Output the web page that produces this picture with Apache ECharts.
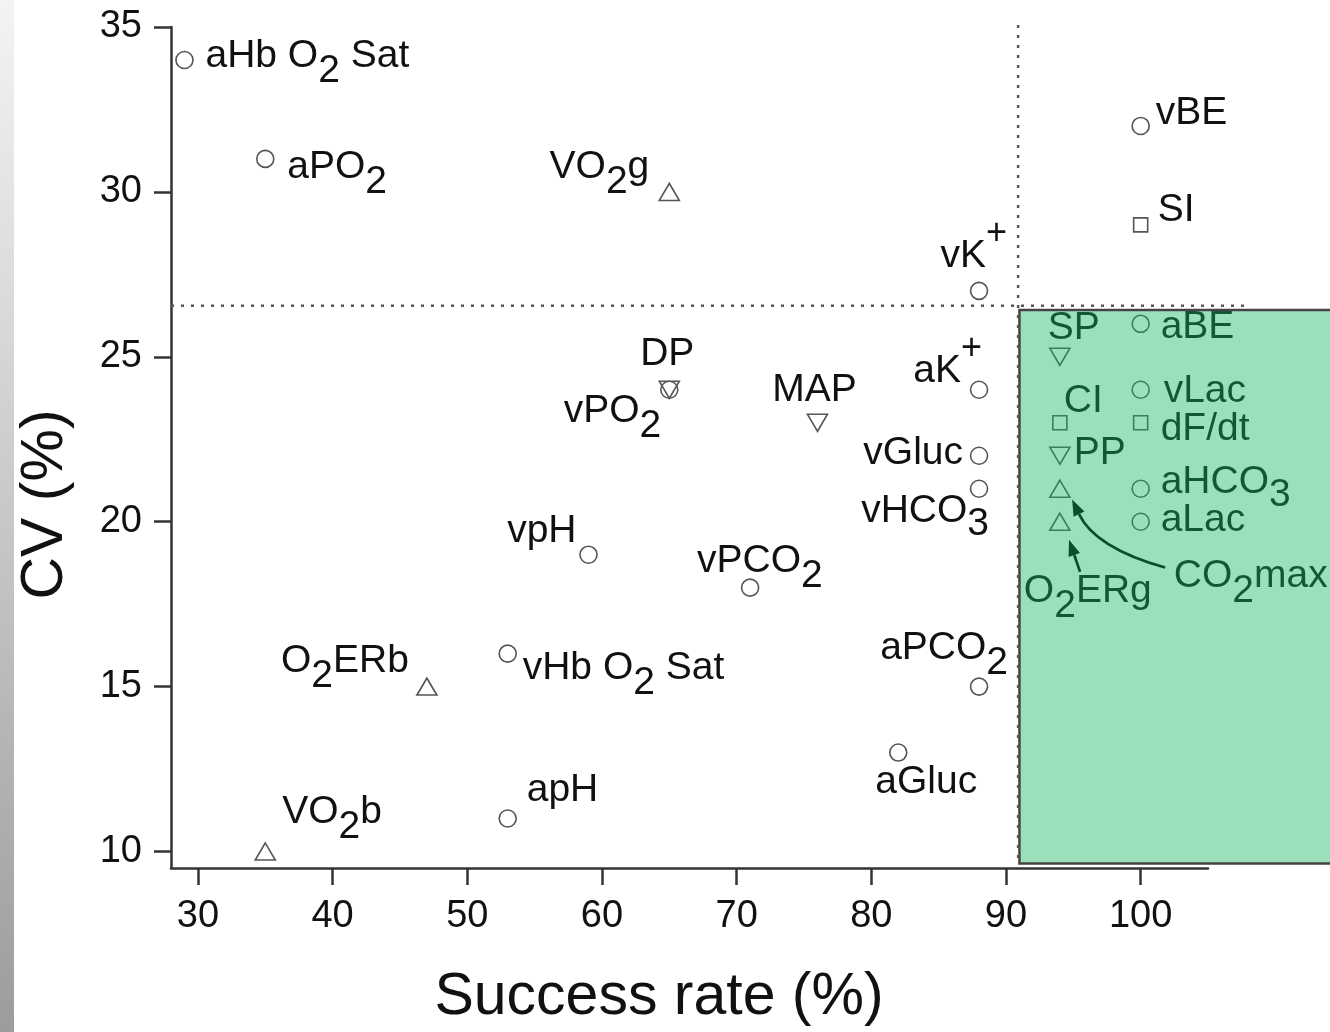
<!DOCTYPE html>
<html>
<head>
<meta charset="utf-8">
<script src="https://cdn.jsdelivr.net/npm/echarts@6/dist/echarts.min.js"></script>
<style>
  html, body { margin: 0; padding: 0; background: #fff; }
  #chart { width: 1330px; height: 1032px; }
</style>
</head>
<body>
<div id="chart"></div>
<script>
// circles
const circleNames = ['aHb O2 Sat', 'aPO2', 'vK+', 'vBE', 'aBE', 'vLac', 'aHCO3', 'aLac', 'aK+', 'vGluc',
  'vHCO3', 'aPCO2', 'aGluc', 'vPO2', 'vpH', 'vPCO2', 'vHb O2 Sat', 'apH'];
const circleX = [29, 35, 88, 100, 100, 100, 100, 100, 88, 88, 88, 88, 82, 65, 59, 71, 53, 53];
const circleY = [34, 31, 27, 32, 26, 24, 21, 20, 24, 22, 21, 15, 13, 24, 19, 18, 16, 11];

// up triangles
const upTriNames = ['VO2g', 'CO2max', 'O2ERg', 'O2ERb', 'VO2b'];
const upTriX = [65, 94, 94, 47, 35];
const upTriY = [30, 21, 20, 15, 10];

// down triangles
const downTriNames = ['SP', 'PP', 'DP', 'MAP'];
const downTriX = [94, 94, 65, 76];
const downTriY = [25, 22, 24, 23];

// squares
const squareNames = ['SI', 'CI', 'dF/dt'];
const squareX = [100, 94, 100];
const squareY = [29, 23, 23];

const xTicks = [30, 40, 50, 60, 70, 80, 90, 100];
const yTicks = [10, 15, 20, 25, 30, 35];

// dotted cut-off lines: [x1, y1, x2, y2]
const cutLines = [
  [90.9, 35.06, 90.9, 9.6],
  [28, 26.55, 107.85, 26.55]
];
// shaded zone: [x1, y1, x2, y2]
const zoneBox = [[91.0, 26.42, 115, 9.64]];
// arrows: [startX, startY, ctrlX, ctrlY, endX, endY]
const arrows = [
  [95.50, 18.48, 95.09, 18.97, 94.68, 19.45],
  [101.82, 18.61, 96.62, 19.21, 94.91, 20.67]
];

// label text with sub/superscripts
const labelText = {
  'aHb O2 Sat': 'aHb O{sb|2} Sat',
  'vHb O2 Sat': 'vHb O{sb|2} Sat',
  'aPO2': 'aPO{sb|2}',
  'vPO2': 'vPO{sb|2}',
  'VO2g': 'VO{sb|2}g',
  'VO2b': 'VO{sb|2}b',
  'O2ERb': 'O{sb|2}ERb',
  'O2ERg': 'O{sb|2}ERg',
  'CO2max': 'CO{sb|2}max',
  'vPCO2': 'vPCO{sb|2}',
  'aPCO2': 'aPCO{sb|2}',
  'vHCO3': 'vHCO{sb3|3}',
  'aHCO3': 'aHCO{sb3|3}',
  'vK+': 'vK{sp|+}',
  'aK+': 'aK{sp|+}'
};

// label placement: [align, dx, dy] from marker centre
const labelPlace = {
  'aHb O2 Sat': ['left', 21, -4],
  'aPO2': ['left', 22, 8],
  'VO2g': ['right', -20, -25],
  'vK+': ['right', 28, -35],
  'vBE': ['left', 15, -13],
  'SI': ['left', 17, -15],
  'SP': ['center', 14, -29],
  'aBE': ['left', 20, 3],
  'CI': ['left', 4, -22],
  'vLac': ['left', 23, 1],
  'dF/dt': ['left', 20, 6],
  'PP': ['left', 14, -2],
  'aHCO3': ['left', 20, -6],
  'aLac': ['left', 20, -1],
  'CO2max': ['left', 114, 88],
  'O2ERg': ['left', -36, 70],
  'aK+': ['right', 3, -19],
  'vGluc': ['right', -16, -2],
  'vHCO3': ['right', 10, 23],
  'aPCO2': ['right', 29, -38],
  'aGluc': ['center', 28, 30],
  'DP': ['center', -2, -36],
  'vPO2': ['right', -8, 21],
  'MAP': ['center', -3, -33],
  'vpH': ['right', -12, -23],
  'vPCO2': ['left', -53, -26],
  'O2ERb': ['right', -18, -25],
  'vHb O2 Sat': ['left', 15, 15],
  'apH': ['left', 19, -28],
  'VO2b': ['left', 17, -39]
};

const FONT = 'Liberation Sans, Arial, sans-serif';
const INK = '#111';

function points(names, xs, ys) {
  return names.map((n, i) => {
    const p = labelPlace[n] || ['left', 14, 0];
    return { name: n, value: [xs[i], ys[i]], label: { align: p[0], offset: [p[1], p[2]] } };
  });
}

const labelBase = {
  show: true,
  position: 'inside',
  verticalAlign: 'middle',
  formatter: (p) => labelText[p.name] || p.name,
  fontFamily: FONT,
  fontSize: 39,
  color: INK,
  textBorderWidth: 0,
  rich: {
    sb: { fontFamily: FONT, fontSize: 39, color: INK, padding: [30, 0, 0, 0], verticalAlign: 'middle' },
    sb3: { fontFamily: FONT, fontSize: 39, color: INK, padding: [26, 0, 0, 0], verticalAlign: 'middle' },
    sp: { fontFamily: FONT, fontSize: 36, color: INK, padding: [0, 0, 44, 0], verticalAlign: 'middle' }
  }
};

const markerStyle = { color: 'rgba(0,0,0,0)', borderColor: '#555', borderWidth: 1.6, opacity: 1 };

const chart = echarts.init(document.getElementById('chart'));

chart.setOption({
  animation: false,
  backgroundColor: '#fff',
  graphic: [{
    type: 'rect',
    shape: { x: 0, y: 0, width: 14, height: 1032 },
    style: {
      fill: new echarts.graphic.LinearGradient(0, 0, 0, 1, [
        { offset: 0, color: '#f4f4f4' },
        { offset: 1, color: '#9c9c9c' }
      ])
    },
    z: -10
  }],
  grid: { left: 171, right: 122, top: 27, bottom: 163 },
  xAxis: {
    type: 'value',
    min: 28,
    max: 105,
    name: 'Success rate (%)',
    nameLocation: 'middle',
    nameGap: 100,
    nameTextStyle: { fontFamily: FONT, fontSize: 59, color: INK, padding: [0, 61, 0, 0] },
    axisLine: { lineStyle: { color: '#333', width: 2.5 } },
    axisTick: { length: 17, lineStyle: { color: '#333', width: 2.5 }, customValues: xTicks },
    axisLabel: { fontFamily: FONT, fontSize: 38, color: INK, margin: 30, customValues: xTicks },
    splitLine: { show: false }
  },
  yAxis: {
    type: 'value',
    min: 9.5,
    max: 35,
    name: 'CV (%)',
    nameLocation: 'middle',
    nameRotate: 90,
    nameGap: 96,
    nameTextStyle: { fontFamily: FONT, fontSize: 59, color: INK, padding: [0, 114, 0, 0] },
    axisLine: { lineStyle: { color: '#333', width: 2.5 } },
    axisTick: { length: 17, lineStyle: { color: '#333', width: 2.5 }, customValues: yTicks },
    axisLabel: { fontFamily: FONT, fontSize: 38, color: INK, margin: 29, customValues: yTicks },
    splitLine: { show: false }
  },
  series: [
    {
      type: 'scatter', z: 2,
      symbol: 'circle', symbolSize: 17,
      itemStyle: markerStyle, label: labelBase,
      data: points(circleNames, circleX, circleY)
    },
    {
      type: 'scatter', z: 2,
      symbol: 'triangle', symbolSize: [20, 17],
      itemStyle: markerStyle, label: labelBase,
      data: points(upTriNames, upTriX, upTriY)
    },
    {
      type: 'scatter', z: 2,
      symbol: 'triangle', symbolSize: [20, 17], symbolRotate: 180,
      itemStyle: markerStyle, label: labelBase,
      data: points(downTriNames, downTriX, downTriY)
    },
    {
      type: 'scatter', z: 2,
      symbol: 'rect', symbolSize: 14,
      itemStyle: markerStyle, label: labelBase,
      data: points(squareNames, squareX, squareY)
    },
    {
      // arrows to CO2max / O2ERg
      type: 'custom', z: 3, silent: true,
      data: arrows,
      renderItem: (params, api) => {
        const s = api.coord([api.value(0), api.value(1)]);
        const c = api.coord([api.value(2), api.value(3)]);
        const e = api.coord([api.value(4), api.value(5)]);
        const dx = e[0] - c[0], dy = e[1] - c[1];
        const len = Math.sqrt(dx * dx + dy * dy);
        const ux = dx / len, uy = dy / len;
        const hl = 16, hw = 6;
        const b = [e[0] - ux * hl, e[1] - uy * hl];
        return {
          type: 'group',
          children: [
            {
              type: 'bezierCurve',
              shape: { x1: s[0], y1: s[1], x2: b[0], y2: b[1], cpx1: c[0], cpy1: c[1] },
              style: { stroke: '#000', lineWidth: 2.7, fill: null }
            },
            {
              type: 'polygon',
              shape: { points: [e, [b[0] - uy * hw, b[1] + ux * hw], [b[0] + uy * hw, b[1] - ux * hw]] },
              style: { fill: '#000' }
            }
          ]
        };
      }
    },
    {
      // shaded zone on top, tints everything below it
      type: 'custom', z: 5, silent: true,
      data: zoneBox,
      renderItem: (params, api) => {
        const a = api.coord([api.value(0), api.value(1)]);
        const b = api.coord([api.value(2), api.value(3)]);
        return {
          type: 'rect',
          shape: { x: a[0], y: a[1], width: b[0] - a[0], height: b[1] - a[1] },
          style: { fill: 'rgba(23,184,98,0.43)', stroke: '#444', lineWidth: 2.5 }
        };
      }
    },
    {
      type: 'custom', z: 6, silent: true,
      data: cutLines,
      renderItem: (params, api) => {
        const a = api.coord([api.value(0), api.value(1)]);
        const b = api.coord([api.value(2), api.value(3)]);
        return {
          type: 'line',
          shape: { x1: a[0], y1: a[1], x2: b[0], y2: b[1] },
          style: { stroke: '#555', lineWidth: 2.5, lineDash: [3, 7] }
        };
      }
    }
  ]
});

window.addEventListener('resize', () => chart.resize());
</script>
</body>
</html>
